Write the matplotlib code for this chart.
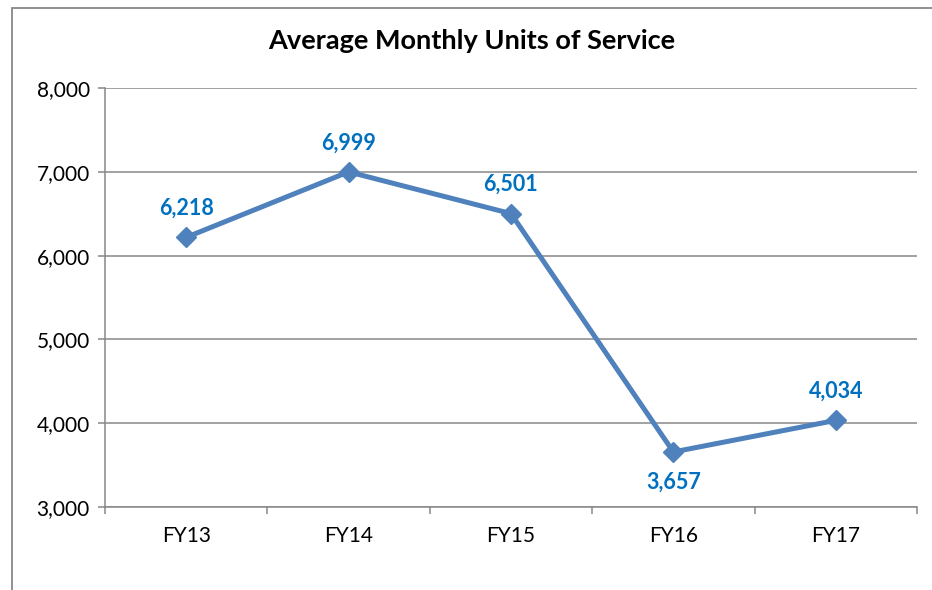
import matplotlib
matplotlib.use("Agg")
import matplotlib.pyplot as plt
from matplotlib.patches import Rectangle
import numpy as np

# chart data
years = ["FY13", "FY14", "FY15", "FY16", "FY17"]
units = [6218, 6999, 6501, 3657, 4034]
label_above = [True, True, True, False, True]

plt.rcParams['font.family'] = ['Lato', 'DejaVu Sans']

fig = plt.figure(figsize=(9.32, 5.9), dpi=100)
ax = fig.add_axes([105/932, 83/590, 812/932, 419/590])

grid_col = '#878787'
x = np.arange(len(years))

ax.plot(x, units, color='#4F81BD', linewidth=3.6, marker='D', markersize=10,
        markeredgecolor='#4F81BD', zorder=3, clip_on=False)

# data labels
for xi, val, up in zip(x, units, label_above):
    off = 21 if up else -22
    ax.annotate(f"{val:,}", (xi, val), xytext=(0, off), textcoords='offset points',
                ha='center', va='center', fontsize=15.5, fontweight='bold', color='#0070C0')

ax.set_xlim(-0.5, len(years) - 0.5)
ax.set_ylim(3000, 8000)
ax.set_yticks(np.arange(3000, 8001, 1000))
ax.set_yticklabels([f"{v:,}" for v in range(3000, 8001, 1000)])
ax.yaxis.grid(True, color=grid_col, linewidth=1.1)
ax.set_axisbelow(True)

ax.set_xticks(x)
ax.set_xticklabels(years)
ax.set_xticks(np.arange(-0.5, len(years)), minor=True)
ax.tick_params(axis='x', which='major', length=0, pad=14, labelsize=15)
ax.tick_params(axis='x', which='minor', length=5, width=1.1, color=grid_col)
ax.tick_params(axis='y', length=5, width=1.1, color=grid_col, pad=6, labelsize=15)

for s in ['top', 'right']:
    ax.spines[s].set_visible(False)
for s in ['left', 'bottom']:
    ax.spines[s].set_color(grid_col)
    ax.spines[s].set_linewidth(1.1)

fig.text(472/932, 1 - 41/590, "Average Monthly Units of Service", ha='center', va='center',
         fontsize=19.5, fontweight='bold')

# outer chart frame (cut off at right and bottom in the original)
fig.patches.append(Rectangle((12/932, -0.1), 2, (590 - 8)/590 + 0.1, transform=fig.transFigure,
                             fill=False, edgecolor='#888888', linewidth=1.3))

fig.savefig("out.png", dpi=100)
